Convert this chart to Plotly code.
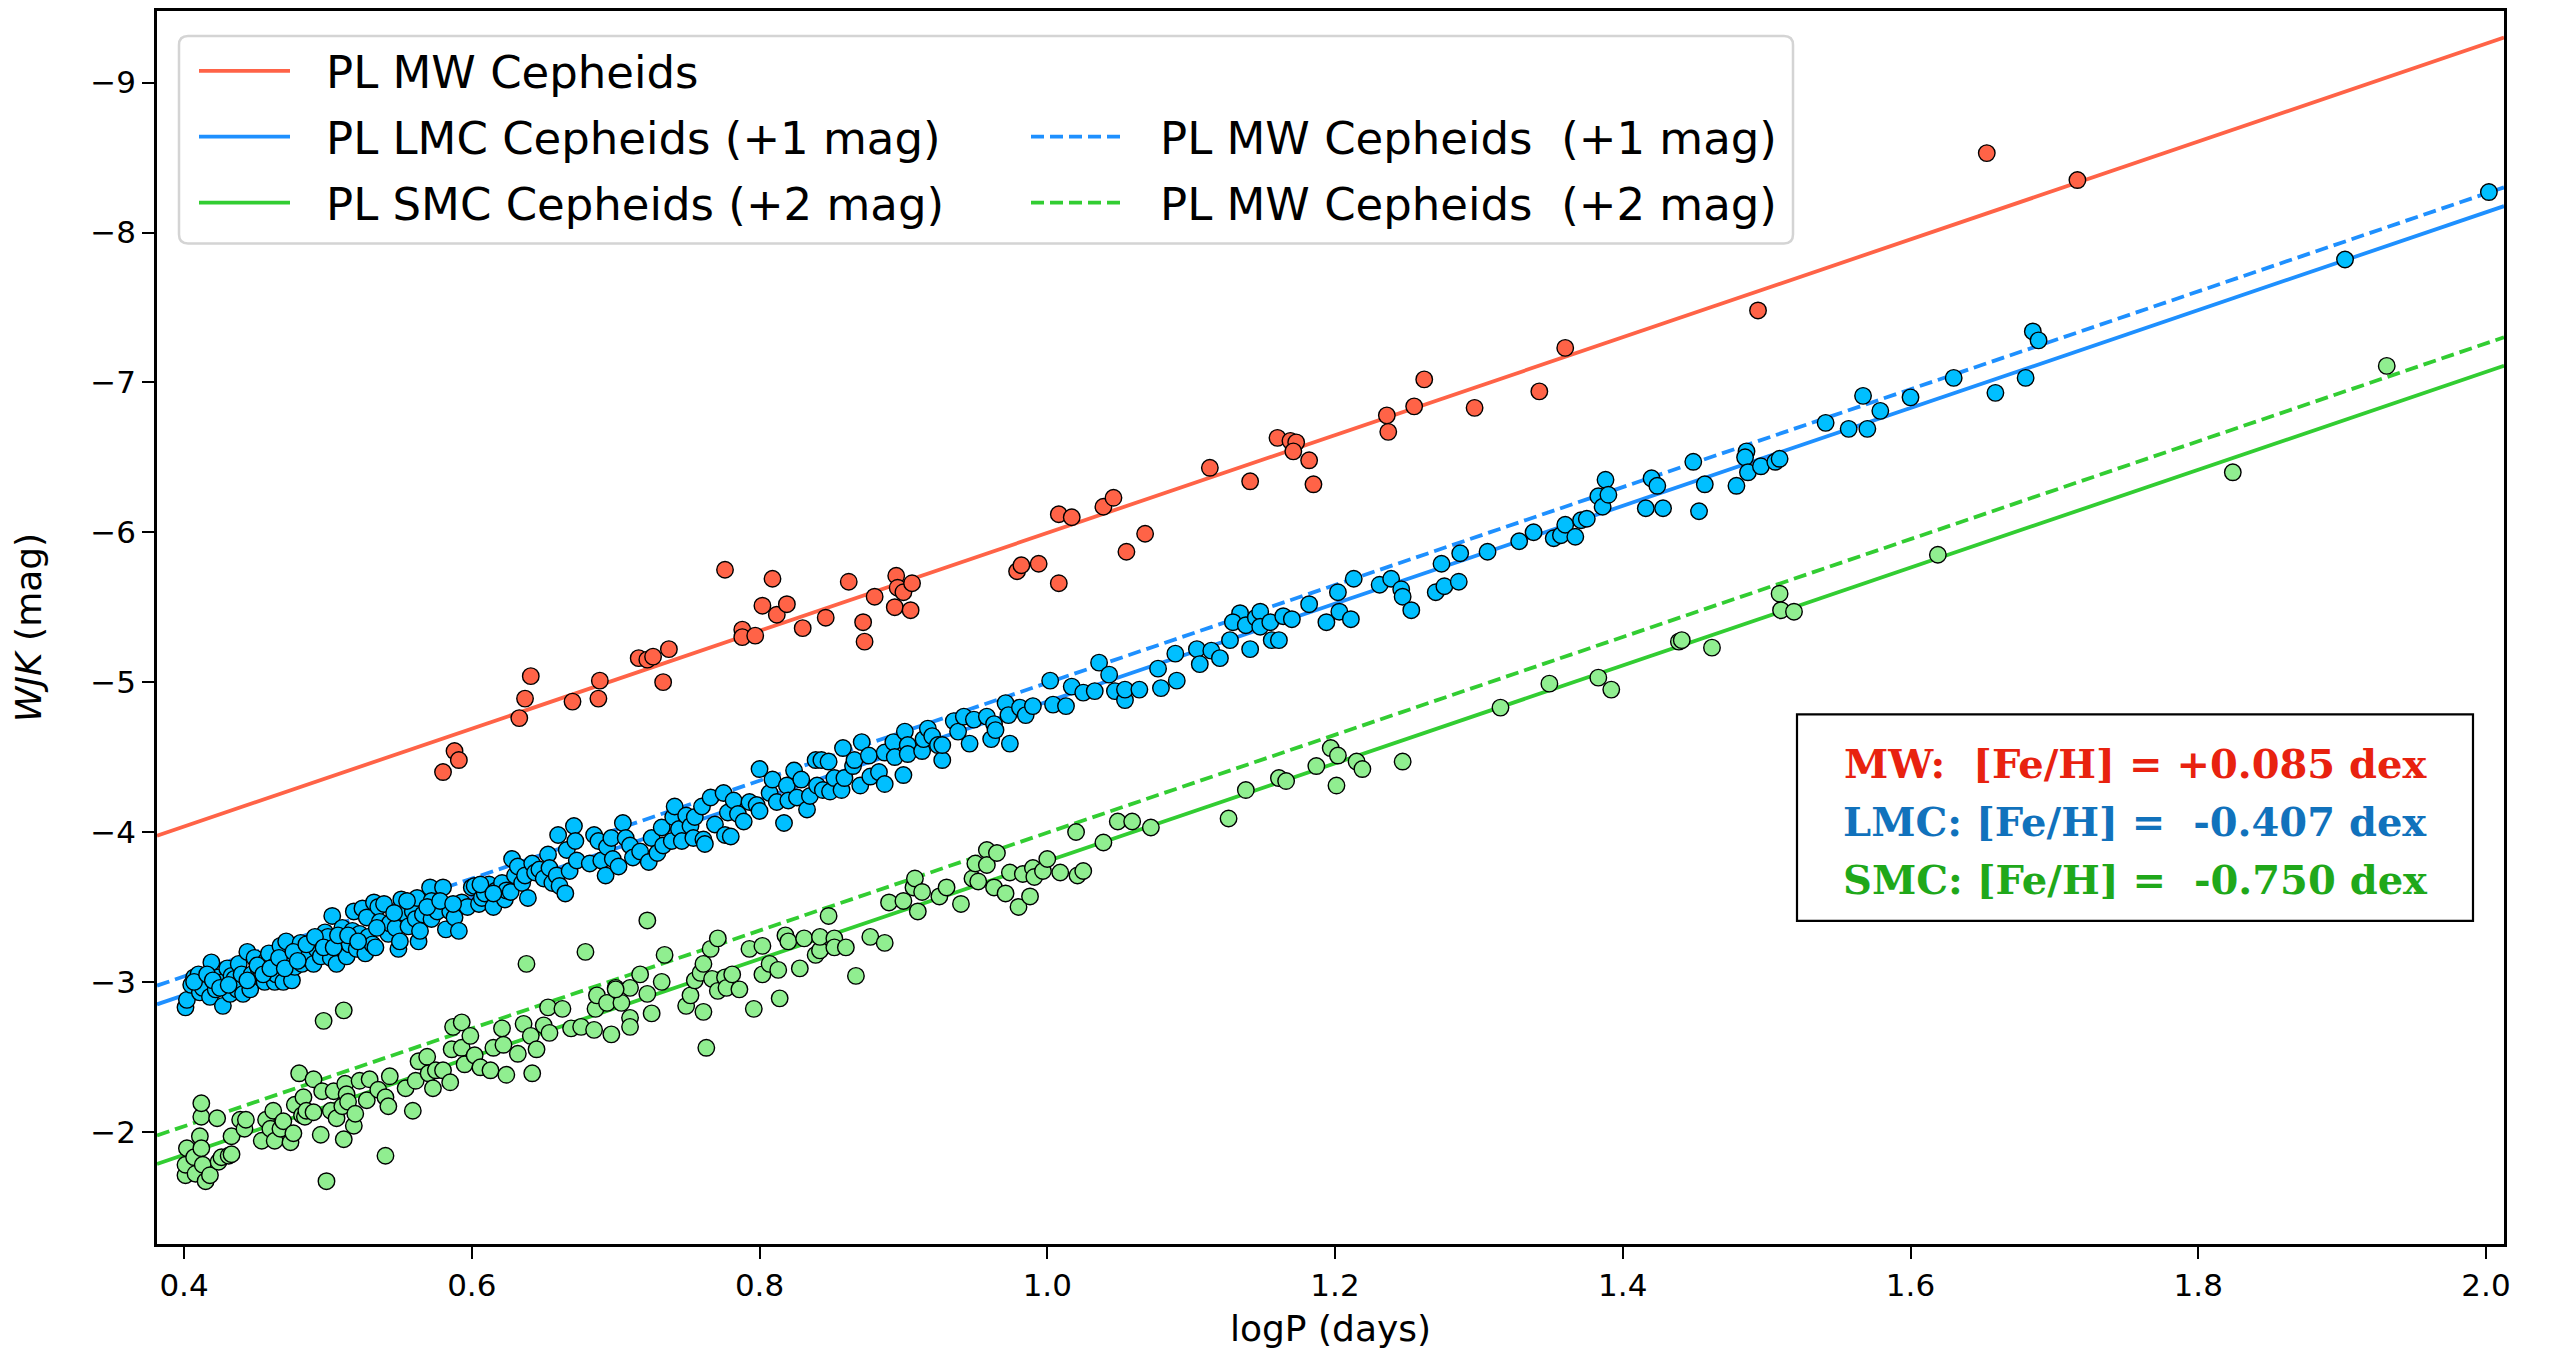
import plotly.graph_objects as go

# ---------------- data ----------------
fit_logp = [0.3812, 2.0125]
mw_fit = [-3.975, -9.301]
lmc_fit = [-2.850, -8.176]
smc_fit = [-1.785, -7.111]
mw_fit_plus1 = [-2.975, -8.301]
mw_fit_plus2 = [-1.975, -7.301]

mw_logp = [0.580,0.588,0.591,0.633,0.637,0.641,0.670,0.688,0.689,0.716,
           0.722,0.726,0.733,0.737,0.776,0.788,0.788,0.797,0.802,0.809,
           0.812,0.819,0.830,0.846,0.862,0.872,0.873,0.880,0.894,0.895,
           0.896,0.900,0.905,0.906,0.979,0.982,0.994,1.008,1.008,1.017,
           1.039,1.046,1.055,1.068,1.113,1.141,1.160,1.169,1.173,1.171,
           1.182,1.185,1.236,1.237,1.255,1.262,1.297,1.342,1.360,1.494,
           1.653,1.716]
mw_w = [-4.40,-4.54,-4.48,-4.76,-4.89,-5.04,-4.87,-4.89,-5.01,-5.16,
        -5.15,-5.17,-5.00,-5.22,-5.75,-5.35,-5.30,-5.31,-5.51,-5.69,
        -5.45,-5.52,-5.36,-5.43,-5.67,-5.40,-5.27,-5.57,-5.50,-5.71,
        -5.63,-5.60,-5.48,-5.66,-5.74,-5.78,-5.79,-5.66,-6.12,-6.10,
        -6.17,-6.23,-5.87,-5.99,-6.43,-6.34,-6.63,-6.61,-6.60,-6.54,
        -6.48,-6.32,-6.78,-6.67,-6.84,-7.02,-6.83,-6.94,-7.23,-7.48,
        -8.53,-8.35]

lmc_logp = [0.401,0.402,0.405,0.407,0.410,0.411,0.413,0.418,0.419,0.422,
            0.424,0.427,0.429,0.430,0.432,0.433,0.435,0.437,0.438,0.440,
            0.441,0.444,0.446,0.447,0.449,0.452,0.453,0.456,0.457,0.459,
            0.462,0.463,0.464,0.467,0.467,0.469,0.471,0.473,0.475,0.477,
            0.478,0.481,0.482,0.484,0.486,0.489,0.490,0.492,0.495,0.498,
            0.500,0.502,0.503,0.506,0.508,0.510,0.512,0.513,0.515,0.517,
            0.518,0.520,0.522,0.524,0.526,0.527,0.528,0.531,0.532,0.533,
            0.535,0.536,0.539,0.542,0.543,0.547,0.549,0.550,0.551,0.553,
            0.556,0.559,0.561,0.562,0.563,0.564,0.566,0.571,0.572,0.572,
            0.576,0.580,0.582,0.585,0.588,0.591,0.593,0.597,0.600,0.602,
            0.605,0.607,0.609,0.612,0.615,0.617,0.621,0.623,0.624,0.627,
            0.628,0.630,0.632,0.635,0.637,0.639,0.642,0.644,0.647,0.650,
            0.653,0.654,0.656,0.659,0.660,0.661,0.665,0.666,0.668,0.671,
            0.672,0.673,0.407,0.416,0.420,0.425,0.431,0.444,0.451,0.455,
            0.460,0.466,0.470,0.476,0.479,0.485,0.491,0.497,0.504,0.507,
            0.514,0.521,0.534,0.546,0.555,0.569,0.578,0.587,0.606,0.615,
            0.682,0.685,0.688,0.690,0.693,0.694,0.697,0.698,0.702,0.705,
            0.707,0.710,0.712,0.717,0.723,0.725,0.729,0.732,0.733,0.739,
            0.740,0.741,0.744,0.746,0.749,0.752,0.754,0.755,0.760,0.761,
            0.762,0.766,0.769,0.775,0.776,0.778,0.780,0.782,0.785,0.789,
            0.793,0.798,0.800,0.800,0.807,0.809,0.812,0.817,0.819,0.820,
            0.824,0.826,0.829,0.833,0.835,0.839,0.840,0.843,0.844,0.848,
            0.849,0.852,0.857,0.858,0.859,0.865,0.866,0.870,0.871,0.876,
            0.877,0.883,0.887,0.887,0.893,0.894,0.900,0.901,0.903,0.903,
            0.913,0.914,0.917,0.920,0.924,0.927,0.935,0.938,0.927,0.942,
            0.946,0.949,0.958,0.961,0.963,0.964,0.971,0.973,0.974,0.981,
            0.985,0.990,1.002,1.004,1.013,1.017,1.025,1.033,1.036,1.043,
            1.047,1.054,1.054,1.064,1.077,1.079,1.089,1.090,1.104,1.106,
            1.114,1.120,1.127,1.134,1.129,1.138,1.141,1.145,1.148,1.148,
            1.155,1.156,1.161,1.164,1.170,1.182,1.194,1.202,1.203,1.211,
            1.213,1.231,1.239,1.246,1.247,1.253,1.270,1.276,1.286,1.274,
            1.287,1.306,1.328,1.338,1.352,1.357,1.360,1.367,1.371,1.375,
            1.383,1.386,1.388,1.390,1.416,1.420,1.424,1.428,1.449,1.453,
            1.457,1.479,1.486,1.485,1.487,1.496,1.506,1.509,1.541,1.557,
            1.570,1.567,1.579,1.600,1.630,1.659,1.680,1.685,1.689,1.902,2.002]
lmc_w = [-2.83,-2.88,-2.98,-3.03,-3.05,-2.93,-2.96,-2.90,-3.13,-2.95,
         -3.03,-2.84,-3.01,-3.09,-2.92,-3.04,-3.02,-2.95,-3.12,-3.05,
         -2.92,-3.20,-2.95,-3.05,-3.16,-3.08,-3.03,-3.00,-3.14,-3.19,
         -3.10,-3.00,-3.05,-3.24,-3.12,-3.00,-3.27,-3.16,-3.01,-3.10,
         -3.21,-3.26,-3.12,-3.16,-3.20,-3.27,-3.12,-3.22,-3.17,-3.33,
         -3.30,-3.16,-3.44,-3.12,-3.27,-3.36,-3.20,-3.17,-3.25,-3.34,
         -3.47,-3.22,-3.32,-3.49,-3.19,-3.43,-3.30,-3.25,-3.53,-3.23,
         -3.50,-3.40,-3.52,-3.32,-3.39,-3.36,-3.22,-3.27,-3.55,-3.46,
         -3.37,-3.47,-3.42,-3.56,-3.27,-3.34,-3.45,-3.63,-3.42,-3.54,
         -3.47,-3.63,-3.35,-3.47,-3.43,-3.34,-3.53,-3.50,-3.63,-3.64,
         -3.52,-3.56,-3.59,-3.65,-3.50,-3.61,-3.66,-3.55,-3.61,-3.60,
         -3.82,-3.71,-3.77,-3.66,-3.71,-3.56,-3.79,-3.73,-3.75,-3.69,
         -3.85,-3.76,-3.66,-3.71,-3.98,-3.64,-3.59,-3.88,-3.74,-4.04,
         -3.94,-3.81,-3.00,-3.05,-3.01,-2.96,-2.98,-3.01,-3.11,-3.05,
         -3.09,-3.16,-3.09,-3.20,-3.14,-3.25,-3.30,-3.23,-3.23,-3.31,
         -3.31,-3.27,-3.36,-3.46,-3.54,-3.50,-3.54,-3.52,-3.65,-3.59,
         -3.79,-3.98,-3.94,-3.81,-3.71,-3.90,-3.96,-3.82,-3.77,-4.06,
         -3.96,-3.91,-3.83,-3.87,-3.80,-3.96,-3.86,-4.03,-3.91,-3.94,
         -4.10,-4.17,-4.02,-3.94,-4.11,-4.04,-3.96,-4.10,-4.17,-3.95,
         -3.92,-4.23,-4.05,-4.26,-3.98,-4.13,-3.97,-4.21,-4.12,-4.07,
         -4.20,-4.18,-4.42,-4.14,-4.26,-4.35,-4.20,-4.06,-4.31,-4.21,
         -4.41,-4.23,-4.35,-4.15,-4.24,-4.48,-4.31,-4.48,-4.28,-4.47,
         -4.27,-4.36,-4.28,-4.56,-4.36,-4.44,-4.48,-4.31,-4.60,-4.51,
         -4.37,-4.40,-4.32,-4.53,-4.60,-4.50,-4.38,-4.67,-4.58,-4.52,
         -4.54,-4.62,-4.69,-4.64,-4.58,-4.48,-4.74,-4.67,-4.58,-4.77,
         -4.59,-4.75,-4.77,-4.62,-4.72,-4.68,-4.86,-4.78,-4.59,-4.83,
         -4.78,-4.84,-5.01,-4.85,-4.84,-4.97,-4.93,-4.94,-5.13,-5.05,
         -4.94,-4.88,-4.95,-4.95,-5.09,-4.96,-5.19,-5.01,-5.22,-5.12,
         -5.21,-5.16,-5.28,-5.46,-5.40,-5.38,-5.22,-5.43,-5.47,-5.37,
         -5.40,-5.28,-5.28,-5.44,-5.42,-5.52,-5.40,-5.60,-5.47,-5.42,
         -5.69,-5.65,-5.69,-5.62,-5.57,-5.48,-5.60,-5.64,-5.67,-5.79,
         -5.86,-5.87,-5.94,-6.00,-5.96,-5.98,-6.05,-5.97,-6.08,-6.09,
         -6.24,-6.17,-6.35,-6.25,-6.16,-6.36,-6.31,-6.16,-6.47,-6.14,
         -6.32,-6.31,-6.54,-6.50,-6.40,-6.44,-6.47,-6.49,-6.73,-6.69,
         -6.69,-6.91,-6.81,-6.90,-7.03,-6.93,-7.03,-7.34,-7.28,-7.82,-8.27]

smc_logp = [0.401,0.402,0.401,0.407,0.408,0.411,0.412,0.412,0.412,0.413,
            0.415,0.418,0.423,0.424,0.426,0.431,0.433,0.433,0.439,0.442,
            0.443,0.454,0.457,0.460,0.462,0.463,0.467,0.469,0.474,0.476,
            0.477,0.480,0.482,0.483,0.484,0.485,0.490,0.490,0.495,0.496,
            0.497,0.499,0.502,0.504,0.506,0.510,0.511,0.511,0.512,0.513,
            0.514,0.518,0.519,0.522,0.527,0.529,0.535,0.540,0.540,0.542,
            0.543,0.554,0.559,0.561,0.563,0.569,0.570,0.573,0.575,0.580,
            0.585,0.586,0.587,0.593,0.593,0.595,0.599,0.602,0.606,0.613,
            0.615,0.621,0.622,0.624,0.632,0.636,0.641,0.642,0.645,0.650,
            0.654,0.653,0.663,0.669,0.676,0.679,0.685,0.686,0.687,0.694,
            0.697,0.700,0.638,
            0.722,0.725,0.732,0.734,0.710,0.717,0.722,0.710,0.710,0.704,
            0.700,0.749,0.752,0.755,0.759,0.761,0.761,0.763,0.766,0.767,
            0.771,0.771,0.776,0.777,0.781,0.786,0.793,0.796,0.802,0.802,
            0.807,0.813,0.814,0.818,0.820,0.828,0.831,0.839,0.842,0.842,
            0.848,0.852,0.852,0.860,0.867,0.877,0.887,0.890,0.900,0.907,
            0.908,0.910,0.913,0.925,0.930,0.940,0.948,0.950,0.952,0.958,
            0.958,0.965,0.963,0.971,0.974,0.980,0.983,0.988,0.990,0.991,
            0.997,1.000,1.009,1.021,1.025,1.020,1.039,1.049,1.059,1.072,
            1.126,1.138,1.161,1.166,1.187,1.197,1.202,1.201,1.215,1.219,
            1.247,1.315,1.349,1.383,1.392,1.439,1.441,1.462,1.509,1.510,
            1.519,1.619,1.824,1.931]
smc_w = [-1.71,-1.89,-1.78,-1.83,-1.72,-1.97,-1.89,-2.10,-2.19,-1.78,
         -1.67,-1.71,-2.09,-1.80,-1.83,-1.84,-1.97,-1.85,-2.08,-2.02,
         -2.08,-1.94,-2.08,-2.02,-2.14,-1.94,-2.02,-2.07,-1.93,-1.99,
         -2.18,-2.39,-2.11,-2.23,-2.10,-2.14,-2.13,-2.35,-1.98,-2.27,
         -2.74,-1.67,-2.14,-2.27,-2.09,-2.17,-2.81,-1.95,-2.32,-2.25,
         -2.20,-2.04,-2.12,-2.34,-2.21,-2.35,-2.28,-1.84,-2.23,-2.17,
         -2.37,-2.29,-2.14,-2.34,-2.47,-2.50,-2.39,-2.29,-2.41,-2.41,
         -2.33,-2.55,-2.70,-2.73,-2.56,-2.45,-2.64,-2.51,-2.43,-2.41,
         -2.56,-2.69,-2.58,-2.38,-2.52,-2.72,-2.64,-2.39,-2.55,-2.71,
         -2.66,-2.83,-2.82,-2.69,-2.70,-3.20,-2.68,-2.82,-2.91,-2.86,
         -2.65,-2.96,-3.12,
         -3.41,-2.79,-3.00,-3.18,-2.96,-3.05,-2.92,-2.76,-2.70,-2.86,
         -2.95,-2.84,-2.91,-3.01,-3.06,-3.12,-2.80,-2.56,-3.22,-3.02,
         -3.29,-2.94,-3.03,-2.96,-3.05,-2.95,-3.22,-2.82,-3.24,-3.05,
         -3.12,-3.08,-2.89,-3.31,-3.27,-3.09,-3.29,-3.18,-3.21,-3.30,
         -3.44,-3.29,-3.23,-3.23,-3.04,-3.30,-3.26,-3.53,-3.54,-3.63,
         -3.69,-3.47,-3.60,-3.57,-3.63,-3.52,-3.69,-3.79,-3.67,-3.88,
         -3.78,-3.86,-3.63,-3.59,-3.73,-3.50,-3.72,-3.57,-3.76,-3.70,
         -3.74,-3.82,-3.73,-3.71,-3.74,-4.00,-3.93,-4.07,-4.07,-4.03,
         -4.09,-4.28,-4.36,-4.34,-4.44,-4.56,-4.51,-4.31,-4.47,-4.42,
         -4.47,-4.83,-4.99,-5.03,-4.95,-5.27,-5.28,-5.23,-5.59,-5.48,
         -5.47,-5.85,-6.40,-7.11]

assert len(mw_logp) == len(mw_w)
assert len(lmc_logp) == len(lmc_w), (len(lmc_logp), len(lmc_w))
assert len(smc_logp) == len(smc_w), (len(smc_logp), len(smc_w))

legend_labels = ["PL MW Cepheids", "PL LMC Cepheids (+1 mag)", "PL SMC Cepheids (+2 mag)",
                 "PL MW Cepheids\u00a0\u00a0(+1 mag)", "PL MW Cepheids\u00a0\u00a0(+2 mag)"]
box_lines = ["MW:\u00a0\u00a0[Fe/H] = +0.085 dex",
             "LMC: [Fe/H] =\u00a0\u00a0-0.407 dex",
             "SMC: [Fe/H] =\u00a0\u00a0-0.750 dex"]

# ---------------- style ----------------
C_MW_LINE = "#FF6347"
C_LMC_LINE = "#1E90FF"
C_SMC_LINE = "#32CD32"
C_MW_PT = "#FF6347"
C_LMC_PT = "#00BFFF"
C_SMC_PT = "#90EE90"
BOX_COLORS = ["#E8220F", "#1172BC", "#20A81A"]
DASH = "13px,6px"
LW = 3.8
MS = 16.5

W, H = 2553, 1363
PL, PR, PT, PB = 157, 2504, 8, 1244


def px(x):
    return (x - PL) / (PR - PL)


def py(y):
    return (PB - y) / (PB - PT)


fig = go.Figure()

# fit lines
for yv, col, dash in [(mw_fit, C_MW_LINE, "solid"), (lmc_fit, C_LMC_LINE, "solid"),
                      (smc_fit, C_SMC_LINE, "solid"), (mw_fit_plus1, C_LMC_LINE, DASH),
                      (mw_fit_plus2, C_SMC_LINE, DASH)]:
    fig.add_trace(go.Scatter(x=fit_logp, y=yv, mode="lines",
                             line=dict(color=col, width=LW, dash=dash),
                             showlegend=False, hoverinfo="skip"))

# data points
for xs, ys, col, name in [(mw_logp, mw_w, C_MW_PT, "MW"),
                          (lmc_logp, lmc_w, C_LMC_PT, "LMC"),
                          (smc_logp, smc_w, C_SMC_PT, "SMC")]:
    fig.add_trace(go.Scatter(x=xs, y=ys, mode="markers", name=name,
                             marker=dict(size=MS, color=col,
                                         line=dict(color="black", width=1.4)),
                             showlegend=False))

shapes = []
annotations = []

# legend box (rounded)
x0, x1 = px(179), px(1793)
y0, y1 = py(241), py(33)
rx, ry = 9 / (PR - PL), 9 / (PB - PT)
path = (f"M{x0+rx},{y1} L{x1-rx},{y1} Q{x1},{y1} {x1},{y1-ry} L{x1},{y0+ry} "
        f"Q{x1},{y0} {x1-rx},{y0} L{x0+rx},{y0} Q{x0},{y0} {x0},{y0+ry} "
        f"L{x0},{y1-ry} Q{x0},{y1} {x0+rx},{y1} Z")
shapes.append(dict(type="path", path=path, xref="paper", yref="paper",
                   fillcolor="rgba(255,255,255,0.8)",
                   line=dict(color="#d4d4d4", width=2.5), layer="above"))

legend_items = [
    (199, 290, 324, 68, C_MW_LINE, "solid", legend_labels[0]),
    (199, 290, 324, 134, C_LMC_LINE, "solid", legend_labels[1]),
    (199, 290, 324, 200, C_SMC_LINE, "solid", legend_labels[2]),
    (1031, 1123, 1158, 134, C_LMC_LINE, DASH, legend_labels[3]),
    (1031, 1123, 1158, 200, C_SMC_LINE, DASH, legend_labels[4]),
]
for lx0, lx1, tx, yy, col, dash, label in legend_items:
    shapes.append(dict(type="line", xref="paper", yref="paper",
                       x0=px(lx0), x1=px(lx1), y0=py(yy), y1=py(yy),
                       line=dict(color=col, width=LW, dash=dash), layer="above"))
    annotations.append(dict(text=label, xref="paper", yref="paper",
                            x=px(tx), y=py(yy + 2), xanchor="left", yanchor="middle",
                            showarrow=False,
                            font=dict(family="DejaVu Sans", size=45, color="black")))

# metallicity text box
shapes.append(dict(type="rect", xref="paper", yref="paper",
                   x0=px(1797), x1=px(2473), y0=py(920), y1=py(713),
                   fillcolor="white", line=dict(color="black", width=2.2), layer="above"))
for i, (txt, yy) in enumerate(zip(box_lines, [762, 820, 879])):
    annotations.append(dict(text="<b>" + txt + "</b>", xref="paper", yref="paper",
                            x=px(2135), y=py(yy), xanchor="center", yanchor="middle",
                            showarrow=False,
                            font=dict(family="DejaVu Serif", size=40, color=BOX_COLORS[i])))

fig.update_layout(
    width=W, height=H,
    margin=dict(l=PL, r=W - PR, t=PT, b=H - PB, pad=0),
    paper_bgcolor="white", plot_bgcolor="white",
    shapes=shapes, annotations=annotations,
    showlegend=False,
    font=dict(family="DejaVu Sans", color="black"),
)
fig.update_xaxes(range=[0.3812, 2.0125], tickmode="array",
                 tickvals=[0.4, 0.6, 0.8, 1.0, 1.2, 1.4, 1.6, 1.8, 2.0],
                 ticktext=["0.4", "0.6", "0.8", "1.0", "1.2", "1.4", "1.6", "1.8", "2.0"],
                 ticks="outside", ticklen=12, tickwidth=2, tickcolor="black",
                 showline=True, linecolor="black", linewidth=2.5, mirror=True,
                 showgrid=False, zeroline=False,
                 tickfont=dict(size=31, family="DejaVu Sans"),
                 title=dict(text="logP (days)", font=dict(size=36, family="DejaVu Sans"),
                            standoff=14))
fig.update_yaxes(range=[-1.251, -9.478], tickmode="array",
                 tickvals=[-9, -8, -7, -6, -5, -4, -3, -2],
                 ticks="outside", ticklen=12, tickwidth=2, tickcolor="black",
                 showline=True, linecolor="black", linewidth=2.5, mirror=True,
                 showgrid=False, zeroline=False,
                 tickfont=dict(size=31, family="DejaVu Sans"),
                 title=dict(text="<i>WJK</i> (mag)", font=dict(size=36, family="DejaVu Sans"),
                            standoff=38))

fig.write_html("out.html")
